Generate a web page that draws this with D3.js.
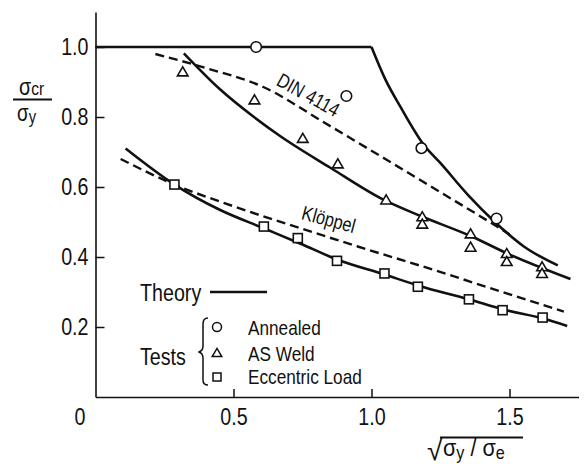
<!DOCTYPE html>
<html><head><meta charset="utf-8">
<script src="https://cdn.jsdelivr.net/npm/d3@7"></script>
<style>
body{margin:0;background:#fff;}
text{font-family:"Liberation Sans",Arial,sans-serif;fill:#111;}
</style></head>
<body><svg id="c" width="588" height="469"></svg>
<script>
// ---- data ----
const xTicks = [0.5, 1.0, 1.5];
const xTickLabels = ["0.5", "1.0", "1.5"];
const yTicks = [0.2, 0.4, 0.6, 0.8, 1.0];
const yTickLabels = ["0.2", "0.4", "0.6", "0.8", "1.0"];

const annealed = [[0.582,1.0],[0.909,0.86],[1.181,0.711],[1.453,0.51]];
const asWeld = [[0.316,0.929],[0.576,0.849],[0.751,0.739],[0.878,0.666],[1.053,0.563],
  [1.184,0.515],[1.184,0.494],[1.359,0.466],[1.359,0.428],[1.49,0.41],[1.49,0.387],
  [1.618,0.372],[1.618,0.353]];
const eccentric = [[0.286,0.607],[0.61,0.487],[0.733,0.454],[0.875,0.389],[1.047,0.353],
  [1.168,0.315],[1.353,0.279],[1.475,0.248],[1.62,0.227]];

const theoryFlat = [[0,1.0],[1.0,1.0]];
const theoryAnnealed = [[1.0,1.0],[1.051,0.906],[1.105,0.829],[1.19,0.72],[1.25,0.668],
  [1.35,0.577],[1.443,0.503],[1.552,0.43],[1.675,0.376]];
const theoryWeld = [[0.32,0.982],[0.45,0.88],[0.574,0.8],[0.67,0.745],[0.851,0.655],
  [1.045,0.563],[1.178,0.517],[1.359,0.46],[1.492,0.41],[1.721,0.337]];
const theoryEccentric = [[0.109,0.71],[0.286,0.607],[0.45,0.535],[0.61,0.482],[0.743,0.438],
  [0.875,0.393],[1.047,0.35],[1.171,0.318],[1.353,0.279],[1.477,0.25],[1.622,0.224],[1.709,0.203]];
const din4114 = [[0.217,0.98],[0.4,0.94],[0.61,0.885],[0.827,0.785],[1.05,0.68],[1.25,0.585],[1.455,0.487],[1.5,0.465]];
const kloppel = [[0.091,0.68],[0.286,0.607],[0.5,0.545],[0.743,0.482],[0.95,0.43],[1.226,0.363],[1.45,0.306],[1.697,0.244]];

// ---- chart ----
const SX = 0.82; // condensed look of the original lettering
const svg = d3.select("#c");
const x = d3.scaleLinear().domain([0, 1.75]).range([95.5, 578.5]);
const y = d3.scaleLinear().domain([0, 1.1]).range([397, 12]);

const yAxis = d3.axisLeft(y).tickValues(yTicks).tickSize(-9).tickSizeOuter(0).tickPadding(7)
  .tickFormat((d,i)=>yTickLabels[i]);
const xAxis = d3.axisBottom(x).tickValues(xTicks).tickSize(-8).tickSizeOuter(0).tickPadding(11)
  .tickFormat((d,i)=>xTickLabels[i]);

const gy = svg.append("g").attr("transform", `translate(${x(0)},0)`).call(yAxis);
const gx = svg.append("g").attr("transform", `translate(0,${y(0)})`).call(xAxis);
[gx, gy].forEach(g => {
  g.select(".domain").attr("stroke", "#111").attr("stroke-width", 1.6);
  g.selectAll(".tick line").attr("stroke", "#111").attr("stroke-width", 1.5);
  g.selectAll(".tick text").attr("font-size", 24).attr("fill", "#111")
    .attr("font-family", '"Liberation Sans",Arial,sans-serif')
    .attr("transform", `scale(${SX},1)`);
});
gy.selectAll(".tick text").attr("x", -7 / SX);

function label(px, py, str, size, anchor) {
  return svg.append("text")
    .attr("transform", `translate(${px},${py}) scale(${SX},1)`)
    .attr("font-size", size).attr("text-anchor", anchor || "start").text(str);
}
label(80, 425, "0", 24, "middle");

// curves
const line = d3.line().x(d => x(d[0])).y(d => y(d[1])).curve(d3.curveMonotoneX);
const straight = d3.line().x(d => x(d[0])).y(d => y(d[1]));
svg.append("path").attr("d", straight(theoryFlat)).attr("fill","none").attr("stroke","#111").attr("stroke-width",2.4);
[theoryAnnealed, theoryWeld, theoryEccentric].forEach(s => {
  svg.append("path").attr("d", line(s)).attr("fill","none").attr("stroke","#111").attr("stroke-width",2.6);
});
[din4114, kloppel].forEach(s => {
  svg.append("path").attr("d", line(s)).attr("fill","none").attr("stroke","#111")
    .attr("stroke-width",2.4).attr("stroke-dasharray","9,5");
});

// markers
function tri(cx, cy, s) {
  return `M${cx - s},${cy + s*0.75}L${cx + s},${cy + s*0.75}L${cx},${cy - s*0.95}Z`;
}
svg.selectAll(".ann").data(annealed).join("circle")
  .attr("cx", d => x(d[0])).attr("cy", d => y(d[1])).attr("r", 5.3)
  .attr("fill","#fff").attr("stroke","#111").attr("stroke-width",1.6);
svg.selectAll(".weld").data(asWeld).join("path")
  .attr("d", d => tri(x(d[0]), y(d[1]), 5.3))
  .attr("fill","#fff").attr("stroke","#111").attr("stroke-width",1.6);
svg.selectAll(".ecc").data(eccentric).join("rect")
  .attr("x", d => x(d[0]) - 4.5).attr("y", d => y(d[1]) - 4.5).attr("width", 9).attr("height", 9)
  .attr("fill","#fff").attr("stroke","#111").attr("stroke-width",1.6);

// curve labels
svg.append("text").attr("transform", `translate(305,101) rotate(29) scale(${SX},1)`)
  .attr("font-size", 20).attr("text-anchor","middle").text("DIN 4114");
svg.append("text").attr("transform", `translate(327,226) rotate(15) scale(${SX},1)`)
  .attr("font-size", 20).attr("text-anchor","middle").text("Klöppel");

// y title: σcr / σy
const yt = svg.append("text").attr("transform", `translate(19,95) scale(${SX},1)`).attr("font-size", 24);
yt.append("tspan").text("σ");
yt.append("tspan").attr("font-size", 19).text("cr");
svg.append("line").attr("x1", 13).attr("x2", 52).attr("y1", 99.5).attr("y2", 99.5)
  .attr("stroke","#111").attr("stroke-width",1.8);
const yb = svg.append("text").attr("transform", `translate(17,121) scale(${SX},1)`).attr("font-size", 23);
yb.append("tspan").text("σ");
yb.append("tspan").attr("font-size", 18).attr("dy", 2).text("y");

// x title: √(σy / σe)
svg.append("text").attr("x", 427).attr("y", 460).attr("font-size", 28).text("√");
svg.append("line").attr("x1", 440).attr("x2", 523).attr("y1", 437.5).attr("y2", 437.5)
  .attr("stroke","#111").attr("stroke-width",1.8);
const xt = svg.append("text").attr("transform", `translate(443,456) scale(0.9,1)`).attr("font-size", 24);
xt.append("tspan").text("σ");
xt.append("tspan").attr("font-size", 18).attr("dy", 3).text("y");
xt.append("tspan").attr("dy", -3).text(" / σ");
xt.append("tspan").attr("font-size", 18).attr("dy", 3).text("e");

// legend
label(140, 301, "Theory", 24);
svg.append("line").attr("x1", 210).attr("x2", 267).attr("y1", 292).attr("y2", 292)
  .attr("stroke","#111").attr("stroke-width",2.6);
label(140, 365, "Tests", 24);
svg.append("path")
  .attr("d", "M208,318 Q203,318 203,324 L203,346 Q203,351 198.5,352 Q203,353 203,358 L203,380 Q203,385 208,385")
  .attr("fill","none").attr("stroke","#111").attr("stroke-width",1.5);
svg.append("circle").attr("cx", 217).attr("cy", 327).attr("r", 4.5)
  .attr("fill","#fff").attr("stroke","#111").attr("stroke-width",1.5);
svg.append("path").attr("d", tri(217, 353, 4.8))
  .attr("fill","#fff").attr("stroke","#111").attr("stroke-width",1.5);
svg.append("rect").attr("x", 213).attr("y", 373).attr("width", 8).attr("height", 8)
  .attr("fill","#fff").attr("stroke","#111").attr("stroke-width",1.5);
label(248, 335, "Annealed", 21);
label(248, 361, "AS Weld", 21);
label(248, 384, "Eccentric Load", 21);
</script></body></html>
